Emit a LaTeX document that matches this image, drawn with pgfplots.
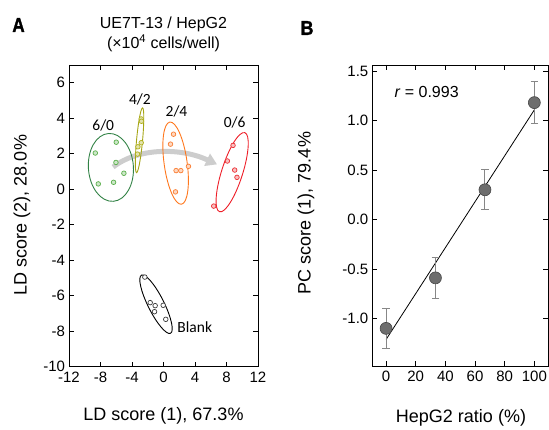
\documentclass[border=0pt]{standalone}
\usepackage{pgfplots}
\pgfplotsset{compat=1.18}
\usepackage{fontspec}
\setmainfont{Liberation Sans}
\newfontfamily\labfont{Carlito}
\newfontfamily\panelfont{Liberation Sans}[BoldFont={Liberation Sans Bold}, BoldFeatures={FakeBold=1.5}]
\usetikzlibrary{arrows.meta}

\definecolor{grnE}{RGB}{50,130,70}
\definecolor{grnP}{RGB}{90,175,75}
\definecolor{oliE}{RGB}{165,165,20}
\definecolor{oliP}{RGB}{175,175,25}
\definecolor{ornE}{RGB}{255,120,30}
\definecolor{ornP}{RGB}{250,125,50}
\definecolor{redE}{RGB}{238,30,40}
\definecolor{redP}{RGB}{235,45,50}
\definecolor{blkP}{RGB}{60,60,60}
\definecolor{arrgray}{RGB}{205,205,205}
\definecolor{dotgray}{RGB}{110,110,110}
\definecolor{dotedge}{RGB}{70,70,70}
\definecolor{errgray}{RGB}{135,135,135}

\pgfplotsset{
  panel/.style={
    scale only axis,
    axis line style={black, line width=0.8pt},
    tick align=inside,
    major tick length=5pt,
    every tick/.style={black, line width=0.8pt},
    tick label style={font=\fontsize{15}{17}\selectfont},
    /pgf/number format/assume math mode=true,
    clip=true,
  },
}

\begin{document}
\begin{tikzpicture}[x=1pt,y=1pt]
\path[use as bounding box] (0,0) rectangle (549,429);

% ---------------- panel A ----------------
\begin{axis}[panel,
  at={(69pt,62.3pt)}, anchor=south west,
  width=189pt, height=301.7pt,
  xmin=-12, xmax=12, ymin=-10, ymax=7,
  xtick={-12,-8,...,12}, ytick={-10,-8,...,6},
  xticklabel shift=1.5pt,
  yticklabel shift=0.5pt,
]
  \draw[arrgray, line width=5pt, -{Triangle[length=11pt,width=13pt]}]
    (axis cs:-6.4,1.25) .. controls (axis cs:-3.2,2.35) and (axis cs:2.2,2.35) .. (axis cs:6.8,1.4);

  \addplot[only marks, mark=*, mark size=2.3pt,
    mark options={draw=grnP, fill=grnP!30!white, line width=0.7pt}]
    coordinates {(-8.66,2.04) (-6.0,2.65) (-6.04,1.51) (-5.03,0.90) (-8.28,0.30) (-6.34,0.39)};
  \addplot[only marks, mark=*, mark size=2.3pt,
    mark options={draw=oliP, fill=oliP!35!white, line width=0.7pt}]
    coordinates {(-2.83,3.96) (-2.80,3.83) (-2.83,2.62) (-3.25,2.39) (-3.30,1.98)};
  \addplot[only marks, mark=*, mark size=2.3pt,
    mark options={draw=ornP, fill=ornP!30!white, line width=0.7pt}]
    coordinates {(1.27,3.10) (0.89,2.54) (1.60,1.05) (2.20,1.05) (3.17,1.29) (1.52,-0.15)};
  \addplot[only marks, mark=*, mark size=2.3pt,
    mark options={draw=redP, fill=redP!30!white, line width=0.7pt}]
    coordinates {(8.83,2.47) (8.11,1.59) (9.04,1.08) (9.33,0.67) (6.38,-0.95)};
  \addplot[only marks, mark=*, mark size=2.3pt,
    mark options={draw=blkP, fill=white, line width=0.7pt}]
    coordinates {(-2.37,-4.95) (-1.69,-6.39) (-1.06,-6.56) (-1.14,-6.90) (-0.04,-6.54) (0.29,-7.33)};

  \draw[grnE, line width=0.9pt] (axis cs:-6.68,1.23) ellipse [x radius=34pt, y radius=22.5pt, rotate=94];
  \draw[oliE, line width=0.9pt] (axis cs:-3.04,2.76) ellipse [x radius=32.5pt, y radius=3pt, rotate=84.7];
  \draw[ornE, line width=0.9pt] (axis cs:1.54,1.47) ellipse [x radius=41.5pt, y radius=11.5pt, rotate=98];
  \draw[redE, line width=0.9pt] (axis cs:8.72,0.96) ellipse [x radius=41.5pt, y radius=10.5pt, rotate=72.3];
  \draw[black, line width=0.9pt] (axis cs:-0.95,-6.48) ellipse [x radius=32.5pt, y radius=8pt, rotate=116.6];

  \node[font=\labfont\fontsize{15.5}{17}\selectfont] at (axis cs:-7.65,3.57) {6/0};
  \node[font=\labfont\fontsize{15.5}{17}\selectfont] at (axis cs:-3.0,5.07) {4/2};
  \node[font=\labfont\fontsize{15.5}{17}\selectfont] at (axis cs:1.65,4.41) {2/4};
  \node[font=\labfont\fontsize{15.5}{17}\selectfont] at (axis cs:9.04,3.76) {0/6};
  \node[font=\labfont\fontsize{15.5}{17}\selectfont] at (axis cs:3.97,-7.76) {Blank};
\end{axis}

% ---------------- panel B ----------------
\begin{axis}[panel,
  at={(372.3pt,63pt)}, anchor=south west,
  width=176pt, height=301pt,
  xmin=-9.3, xmax=109.4, ymin=-1.48, ymax=1.56,
  xtick={0,20,...,100}, ytick={-1,-0.5,...,1.5},
  yticklabel style={/pgf/number format/fixed, /pgf/number format/fixed zerofill, /pgf/number format/precision=1},
  xticklabel shift=1.5pt,
  yticklabel shift=0.5pt,
]
  \addplot[black, line width=0.8pt, no marks] coordinates {(0,-1.212) (100,1.107)};
  \addplot[only marks, mark=*, mark size=6pt,
    mark options={fill=dotgray, draw=dotedge, line width=0.6pt},
    error bars/.cd, y dir=both, y explicit,
    error bar style={errgray, line width=1pt},
    error mark options={errgray, line width=1pt, mark size=3.8pt, rotate=90}]
    coordinates {
      (0,-1.10) +- (0,0.20)
      (33.3,-0.59) +- (0,0.21)
      (66.7,0.30) +- (0,0.20)
      (100,1.18) +- (0,0.21)
    };
\end{axis}

% ---------------- text ----------------
\node[font=\panelfont\bfseries\fontsize{20}{22}\selectfont] at (18.5,404) {\scalebox{0.85}[1]{A}};
\node[font=\panelfont\bfseries\fontsize{20}{22}\selectfont] at (307,401) {\scalebox{0.9}[1]{B}};
\node[font=\fontsize{16}{18}\selectfont] at (163.5,405) {UE7T-13 / HepG2};
\node[font=\fontsize{16}{18}\selectfont] at (163.5,386) {(×10\textsuperscript{4} cells/well)};
\node[font=\fontsize{18}{20}\selectfont] at (163.5,13) {LD score (1), 67.3\%};
\node[font=\fontsize{18}{20}\selectfont, rotate=90] at (22,214) {LD score (2), 28.0\%};
\node[font=\fontsize{18}{20}\selectfont] at (461,11) {HepG2 ratio (\%)};
\node[font=\fontsize{18}{20}\selectfont, rotate=90] at (306,216) {PC score (1), 79.4\%};
\node[font=\fontsize{16}{18}\selectfont, anchor=west] at (391,337) {\textit{r} = 0.993};
\end{tikzpicture}
\end{document}
